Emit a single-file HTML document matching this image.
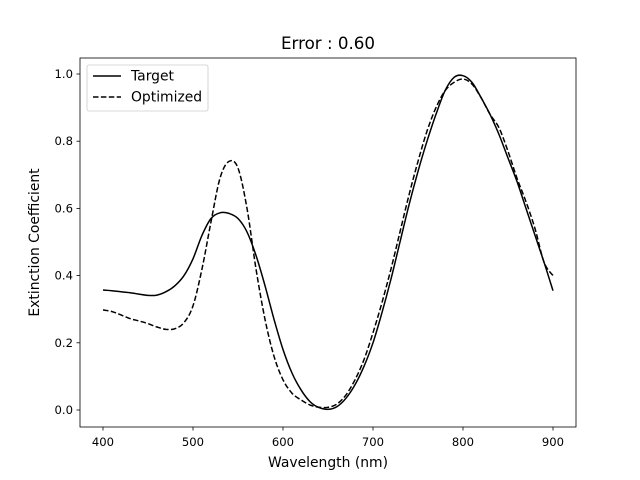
<!DOCTYPE html>
<html><head><meta charset="utf-8"><style>
html,body{margin:0;padding:0;background:#fff;}
svg{display:block;font-family:"DejaVu Sans","Liberation Sans",sans-serif;}
</style></head><body>
<svg id="chart" width="640" height="480" viewBox="0 0 640 480" xmlns="http://www.w3.org/2000/svg">
<rect width="640" height="480" fill="#fff"/>
<text x="328" y="49" text-anchor="middle" font-size="16.7">Error : 0.60</text>
<g id="plot"></g>
<rect x="80" y="58" width="496" height="369" fill="none" stroke="#000" stroke-width="0.8"/>
<text x="328" y="467" text-anchor="middle" font-size="13.9">Wavelength (nm)</text>
<text transform="translate(39,242.5) rotate(-90)" text-anchor="middle" font-size="13.9">Extinction Coefficient</text>
<g>
<rect x="87" y="65" width="121" height="46" rx="2" fill="#fff" stroke="#ccc" stroke-width="0.8"/>
<line x1="93" y1="76" x2="121" y2="76" stroke="#000" stroke-width="1.5"/>
<text x="131" y="80.5" font-size="13.9">Target</text>
<line x1="93" y1="97" x2="121" y2="97" stroke="#000" stroke-width="1.5" stroke-dasharray="5.5,2.4"/>
<text x="131" y="101.5" font-size="13.9">Optimized</text>
</g>
</svg>
<script>
const wavelengths=[400,410,420,430,440,450,460,470,480,490,500,510,520,530,540,550,560,570,580,590,600,610,620,630,640,650,660,670,680,690,700,710,720,730,740,750,760,770,780,790,800,810,820,830,840,850,860,870,880,890,900];
const targetValues=[0.357,0.355,0.352,0.349,0.345,0.341,0.342,0.352,0.37,0.40,0.45,0.52,0.57,0.587,0.585,0.57,0.53,0.46,0.37,0.27,0.18,0.11,0.06,0.025,0.007,0.002,0.01,0.035,0.075,0.13,0.2,0.29,0.39,0.5,0.61,0.71,0.8,0.88,0.95,0.99,0.995,0.975,0.93,0.88,0.82,0.75,0.68,0.6,0.52,0.44,0.355];
const optimizedValues=[0.298,0.293,0.283,0.272,0.265,0.257,0.247,0.24,0.242,0.26,0.31,0.42,0.56,0.69,0.74,0.72,0.6,0.42,0.27,0.16,0.09,0.05,0.03,0.015,0.008,0.008,0.018,0.045,0.09,0.15,0.23,0.32,0.42,0.53,0.64,0.74,0.83,0.9,0.95,0.975,0.985,0.97,0.93,0.88,0.84,0.77,0.69,0.62,0.54,0.44,0.40];
const xTicks=[400,500,600,700,800,900];
const yTicks=[0.0,0.2,0.4,0.6,0.8,1.0];
const NS="http://www.w3.org/2000/svg";
const xS=v=>103+(v-400)*0.9;
const yS=v=>410-v*336;
const g=document.getElementById('plot');
function mk(t,a){const e=document.createElementNS(NS,t);for(const k in a)e.setAttribute(k,a[k]);g.appendChild(e);return e;}
xTicks.forEach(t=>{
  const l=mk('line',{x1:xS(t),x2:xS(t),y1:427,y2:430.5,stroke:'#000','stroke-width':0.8});
  
  
  const tx=mk('text',{x:xS(t),y:446,'text-anchor':'middle','font-size':11.6});
  tx.textContent=t;
  
  
});
yTicks.forEach(t=>{
  const l=mk('line',{x1:76.5,x2:80,y1:yS(t),y2:yS(t),stroke:'#000','stroke-width':0.8});
  
  
  const tx=mk('text',{x:73,y:yS(t)+4,'text-anchor':'end','font-size':11.6});
  tx.textContent=t.toFixed(1);
  
  
});
function smooth(a){
  const p=a.map((v,i)=>[xS(wavelengths[i]),yS(v)]);
  let d='M'+p[0][0].toFixed(1)+','+p[0][1].toFixed(1);
  for(let i=0;i<p.length-1;i++){
    const p0=p[Math.max(0,i-1)],p1=p[i],p2=p[i+1],p3=p[Math.min(p.length-1,i+2)];
    const c1=[p1[0]+(p2[0]-p0[0])/6,p1[1]+(p2[1]-p0[1])/6];
    const c2=[p2[0]-(p3[0]-p1[0])/6,p2[1]-(p3[1]-p1[1])/6];
    d+=' C'+c1.map(n=>n.toFixed(1)).join(',')+' '+c2.map(n=>n.toFixed(1)).join(',')+' '+p2.map(n=>n.toFixed(1)).join(',');
  }
  return d;
}
const t=mk('path',{d:smooth(targetValues),fill:'none',stroke:'#000','stroke-width':1.5,'stroke-linejoin':'round'});


const o=mk('path',{d:smooth(optimizedValues),fill:'none',stroke:'#000','stroke-width':1.5,'stroke-dasharray':'5.5,2.4'});


</script>
</body></html>
